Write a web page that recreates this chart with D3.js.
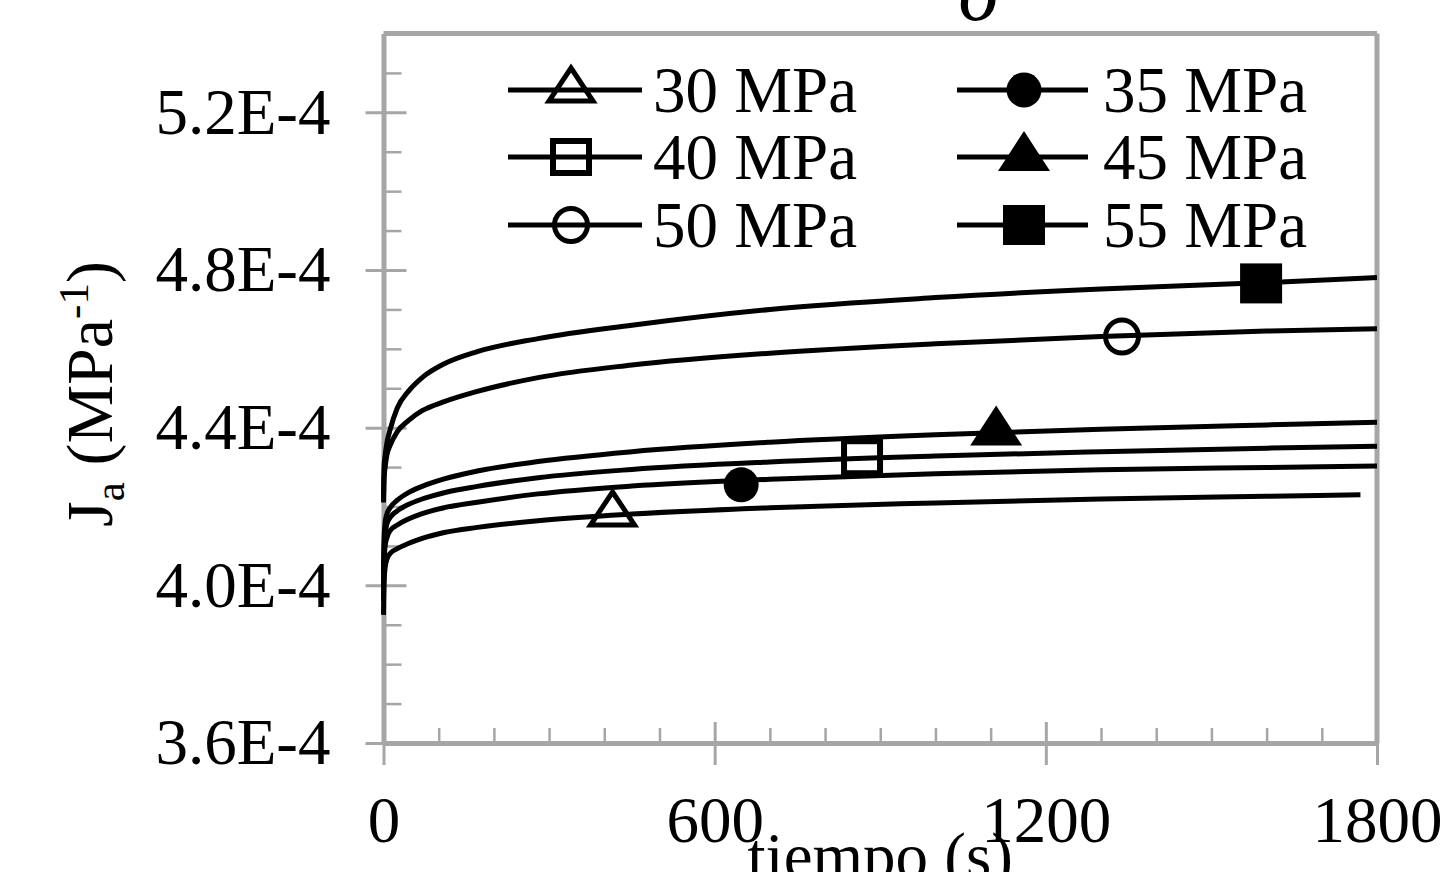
<!DOCTYPE html>
<html>
<head>
<meta charset="utf-8">
<script src="https://cdn.jsdelivr.net/npm/d3@7"></script>
<style>
  body { margin: 0; background: #fff; }
  text { font-family: "Liberation Serif", "Times New Roman", serif; fill: #000; }
</style>
</head>
<body>
<script>
// tiempo (s) at which every curve was read
var timeS = [0, 1, 3, 6, 12, 25, 45, 70, 110, 170, 280, 450, 700, 1000, 1300, 1600, 1800];
// last time of each curve (30 MPa stops a bit before 1800)
var lastT = [1770, 1800, 1800, 1800, 1800, 1800];

// Ja values, in units of 1E-4 MPa^-1
var j30 = [3.925, 4.01, 4.045, 4.065, 4.081, 4.093, 4.106, 4.119, 4.134, 4.147, 4.164, 4.181, 4.197, 4.209, 4.219, 4.226, 4.230];
var j35 = [3.96, 4.06, 4.10, 4.12, 4.139, 4.153, 4.168, 4.182, 4.197, 4.211, 4.232, 4.252, 4.269, 4.283, 4.293, 4.299, 4.303];
var j40 = [3.99, 4.09, 4.13, 4.155, 4.172, 4.189, 4.205, 4.219, 4.235, 4.251, 4.273, 4.294, 4.313, 4.328, 4.339, 4.348, 4.353];
var j45 = [4.03, 4.12, 4.16, 4.18, 4.197, 4.216, 4.235, 4.251, 4.270, 4.290, 4.314, 4.339, 4.363, 4.382, 4.396, 4.407, 4.414];
var j50 = [4.21, 4.27, 4.30, 4.33, 4.355, 4.39, 4.418, 4.443, 4.466, 4.492, 4.527, 4.559, 4.589, 4.613, 4.631, 4.645, 4.651];
var j55 = [4.22, 4.30, 4.33, 4.36, 4.395, 4.45, 4.492, 4.527, 4.562, 4.593, 4.626, 4.660, 4.700, 4.730, 4.752, 4.768, 4.781];

var seriesNames = ["30 MPa", "35 MPa", "40 MPa", "45 MPa", "50 MPa", "55 MPa"];
var markerKind  = ["triOpen", "circleFill", "squareOpen", "triFill", "circleOpen", "squareFill"];
// one marker per curve
var markerT = [415, 648, 867, 1110, 1338, 1590];
var markerJ = [4.181, 4.255, 4.325, 4.390, 4.631, 4.766];

var xMajorTicks = [0, 600, 1200, 1800];
var xMinorTicks = [100, 200, 300, 400, 500, 700, 800, 900, 1000, 1100, 1300, 1400, 1500, 1600, 1700];
var yMajorTicks = [3.6, 4.0, 4.4, 4.8, 5.2];
var yTickLabels = ["3.6E-4", "4.0E-4", "4.4E-4", "4.8E-4", "5.2E-4"];
var yMinorTicks = [3.7, 3.8, 3.9, 4.1, 4.2, 4.3, 4.5, 4.6, 4.7, 4.9, 5.0, 5.1, 5.3];

var allJ = [j30, j35, j40, j45, j50, j55];
var axisGray = "#a6a6a6";

var svg = d3.select("body").append("svg")
    .attr("width", 1450)
    .attr("height", 872);

var x = d3.scaleLinear().domain([0, 1800]).range([383.5, 1377]);
var y = d3.scaleLinear().domain([3.6, 5.4]).range([743, 33.5]);

// cut-off title glyph at the very top
svg.append("text")
    .attr("x", 979).attr("y", 20)
    .attr("text-anchor", "middle")
    .style("font-size", "84px")
    .style("font-style", "italic")
    .text("σ");

// frame (top and right)
svg.append("line").attr("x1", x(0)).attr("x2", x(1800)).attr("y1", y(5.4)).attr("y2", y(5.4))
    .attr("stroke", axisGray).attr("stroke-width", 5);
svg.append("line").attr("x1", x(1800)).attr("x2", x(1800)).attr("y1", y(5.4)).attr("y2", y(3.6))
    .attr("stroke", axisGray).attr("stroke-width", 5);

// minor ticks
svg.append("g")
    .attr("transform", "translate(0," + y(3.6) + ")")
    .call(d3.axisBottom(x).tickValues(xMinorTicks).tickSize(-15).tickSizeOuter(0).tickFormat(""))
    .call(function(g) { g.select(".domain").remove(); })
    .selectAll("line").attr("stroke", axisGray).attr("stroke-width", 2.5);

svg.append("g")
    .attr("transform", "translate(" + x(0) + ",0)")
    .call(d3.axisLeft(y).tickValues(yMinorTicks).tickSize(-18).tickSizeOuter(0).tickFormat(""))
    .call(function(g) { g.select(".domain").remove(); })
    .selectAll("line").attr("stroke", axisGray).attr("stroke-width", 2.5);

// x axis
var xAxis = svg.append("g")
    .attr("transform", "translate(0," + y(3.6) + ")")
    .call(d3.axisBottom(x).tickValues(xMajorTicks).tickSizeOuter(0).tickFormat(d3.format("d")));
xAxis.select(".domain").attr("stroke", axisGray).attr("stroke-width", 5);
xAxis.selectAll(".tick line").attr("y1", -21).attr("y2", 22)
    .attr("stroke", axisGray).attr("stroke-width", 3);
xAxis.selectAll(".tick text").attr("y", 99).attr("dy", 0)
    .style("font-size", "65px").style("font-family", "Liberation Serif").attr("fill", "#000");

// y axis
var yAxis = svg.append("g")
    .attr("transform", "translate(" + x(0) + ",0)")
    .call(d3.axisLeft(y).tickValues(yMajorTicks).tickSizeOuter(0)
        .tickFormat(function(d, i) { return yTickLabels[i]; }));
yAxis.select(".domain").attr("stroke", axisGray).attr("stroke-width", 5);
yAxis.selectAll(".tick line").attr("x1", -18).attr("x2", 23)
    .attr("stroke", axisGray).attr("stroke-width", 3);
yAxis.selectAll(".tick text").attr("x", -53).attr("dy", "0.32em")
    .style("font-size", "65px").style("font-family", "Liberation Serif").attr("fill", "#000");

// axis titles
svg.append("text")
    .attr("x", x(900)).attr("y", 878)
    .attr("text-anchor", "middle")
    .style("font-size", "65px")
    .text("tiempo (s)");

var yt = svg.append("text")
    .attr("transform", "translate(112," + 394 + ") rotate(-90)")
    .attr("text-anchor", "middle")
    .style("font-size", "66px");
yt.append("tspan").text("J");
yt.append("tspan").attr("dy", 12).style("font-size", "43px").text("a");
yt.append("tspan").attr("dy", -12).text(" (MPa");
yt.append("tspan").attr("dy", -24).style("font-size", "43px").text("-1");
yt.append("tspan").attr("dy", 24).text(")");

// curves
var line = d3.line()
    .x(function(d) { return x(d[0]); })
    .y(function(d) { return y(d[1]); })
    .curve(d3.curveMonotoneX);

allJ.forEach(function(vals, i) {
  var pts = vals.map(function(v, k) {
    var t = (k == vals.length - 1) ? lastT[i] : timeS[k];
    return [t, v];
  });
  svg.append("path")
      .attr("d", line(pts))
      .attr("fill", "none")
      .attr("stroke", "#000")
      .attr("stroke-width", 5);
});

// marker shapes
function drawMarker(g, kind) {
  if (kind == "triOpen") {
    g.append("path").attr("d", "M0,-22L22,11L-22,11Z")
      .attr("fill", "none").attr("stroke", "#000").attr("stroke-width", 5);
  } else if (kind == "triFill") {
    g.append("path").attr("d", "M0,-26L26,14L-26,14Z").attr("fill", "#000");
  } else if (kind == "squareOpen") {
    g.append("rect").attr("x", -18).attr("y", -16).attr("width", 36).attr("height", 32)
      .attr("fill", "none").attr("stroke", "#000").attr("stroke-width", 6);
  } else if (kind == "squareFill") {
    g.append("rect").attr("x", -21).attr("y", -20).attr("width", 42).attr("height", 40).attr("fill", "#000");
  } else if (kind == "circleOpen") {
    g.append("circle").attr("r", 16.5)
      .attr("fill", "none").attr("stroke", "#000").attr("stroke-width", 5);
  } else {
    g.append("circle").attr("r", 17.5).attr("fill", "#000");
  }
}

markerT.forEach(function(t, i) {
  var g = svg.append("g").attr("transform", "translate(" + x(t) + "," + y(markerJ[i]) + ")");
  drawMarker(g, markerKind[i]);
});

// legend, two columns
var legCols = [{x1: 508, x2: 642, mx: 571, tx: 653}, {x1: 957, x2: 1088, mx: 1024, tx: 1103}];
var legRows = [90, 157, 225];

seriesNames.forEach(function(name, i) {
  var c = legCols[i % 2], ry = legRows[Math.floor(i / 2)];
  var lg = svg.append("g");
  lg.append("line").attr("x1", c.x1).attr("x2", c.x2).attr("y1", ry).attr("y2", ry)
    .attr("stroke", "#000").attr("stroke-width", 5);
  drawMarker(lg.append("g").attr("transform", "translate(" + c.mx + "," + ry + ")"), markerKind[i]);
  lg.append("text").attr("x", c.tx).attr("y", ry + 22)
    .style("font-size", "65px").text(name);
});
</script>
</body>
</html>
